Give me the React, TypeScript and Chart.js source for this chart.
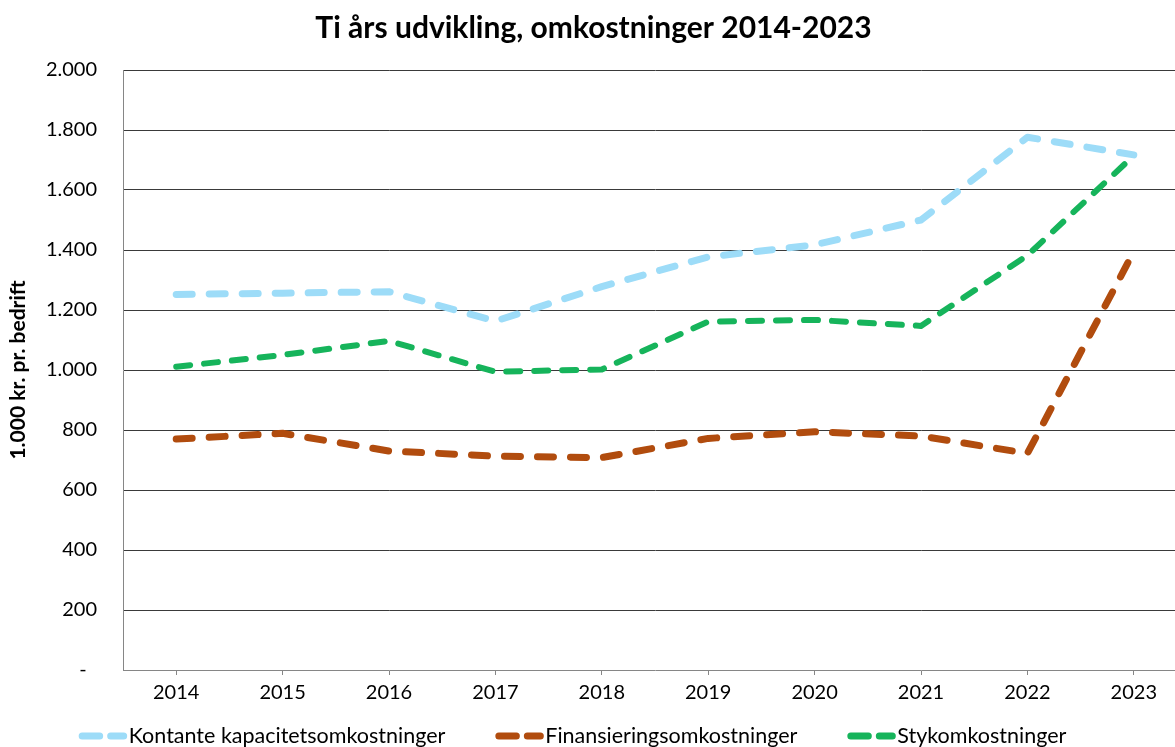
import React, { useEffect, useRef } from 'react';
import { Chart, registerables } from 'chart.js';

Chart.register(...registerables);

const years = ['2014', '2015', '2016', '2017', '2018', '2019', '2020', '2021', '2022', '2023'];
const kontante = [1252, 1256, 1261, 1163, 1278, 1377, 1417, 1500, 1776, 1717];
const finansiering = [770, 789, 730, 713, 708, 772, 794, 780, 722, 1395];
const styk = [1011, 1050, 1097, 994, 1002, 1161, 1167, 1147, 1382, 1715];

const seriesLabels = ['Kontante kapacitetsomkostninger', 'Finansieringsomkostninger', 'Stykomkostninger'];
const seriesColors = ['#9DDCF8', '#B14C0E', '#16B45B'];

const titleText = 'Ti års udvikling, omkostninger 2014-2023';
const yAxisTitle = '1.000 kr. pr. bedrift';

const FONT = 'Lato';

function formatTick(v: number): string {
  if (v === 0) return '-  ';
  if (v >= 1000) {
    const th = Math.floor(v / 1000);
    const rest = String(v % 1000).padStart(3, '0');
    return `${th}.${rest}`;
  }
  return String(v);
}

const customLegend = {
  id: 'customLegend',
  afterDraw(chart: any) {
    const ctx = chart.ctx as CanvasRenderingContext2D;
    const ds = chart.data.datasets;
    ctx.save();
    ctx.font = `21.5px ${FONT}`;
    const symW = 48;
    const symGap = 2;
    const itemGap = 50;
    const widths = ds.map((d: any) => ctx.measureText(d.label).width);
    const total = widths.reduce((a: number, w: number) => a + symW + symGap + w, 0) + itemGap * (ds.length - 1);
    let x = chart.width / 2 - 25 - total / 2;
    const y = chart.height - 11;
    ds.forEach((d: any, i: number) => {
      ctx.strokeStyle = d.borderColor;
      ctx.lineWidth = 7;
      ctx.lineCap = 'round';
      ctx.setLineDash([]);
      ctx.beginPath();
      ctx.moveTo(x + 3.5, y);
      ctx.lineTo(x + 21, y);
      ctx.moveTo(x + 32, y);
      ctx.lineTo(x + symW - 3, y);
      ctx.stroke();
      ctx.fillStyle = '#000';
      ctx.textBaseline = 'middle';
      ctx.textAlign = 'left';
      ctx.fillText(d.label, x + symW + symGap, y);
      x += symW + symGap + widths[i] + itemGap;
    });
    ctx.restore();
  },
};

export default function App() {
  const ref = useRef<HTMLCanvasElement>(null);

  useEffect(() => {
    if (!ref.current) return;
    const mk = (label: string, data: number[], color: string, width: number, dash: number[], order: number) => ({
      label,
      data,
      borderColor: color,
      backgroundColor: color,
      borderWidth: width,
      borderDash: dash,
      borderCapStyle: 'round' as const,
      borderJoinStyle: 'round' as const,
      pointRadius: 0,
      tension: 0,
      fill: false,
      order,
    });
    const chart = new Chart(ref.current, {
      type: 'line',
      data: {
        labels: years,
        datasets: [
          mk(seriesLabels[0], kontante, seriesColors[0], 7, [16, 17], 3),
          mk(seriesLabels[1], finansiering, seriesColors[1], 7, [16, 17], 2),
          mk(seriesLabels[2], styk, seriesColors[2], 6, [14, 14], 1),
        ],
      },
      plugins: [customLegend],
      options: {
        responsive: true,
        maintainAspectRatio: false,
        animation: false,
        layout: { padding: { left: 0, right: 8, top: 0, bottom: 30 } },
        plugins: {
          legend: { display: false },
          tooltip: { enabled: false },
          title: {
            display: true,
            text: titleText,
            color: '#000',
            font: { family: FONT, size: 30, weight: 'bold' },
            padding: { top: 10, bottom: 24 },
          },
        },
        scales: {
          x: {
            offset: true,
            grid: { offset: false, drawOnChartArea: false, drawTicks: true, tickLength: 5, color: '#868686' },
            border: { display: true, color: '#868686' },
            ticks: { font: { family: FONT, size: 20 }, color: '#000', padding: 6, maxRotation: 0, autoSkip: false },
            afterFit: (s: any) => { s.height = 47; },
          },
          y: {
            min: 0,
            max: 2000,
            ticks: {
              stepSize: 200,
              padding: 26,
              color: '#000',
              font: { family: FONT, size: 20 },
              callback: (v: any) => formatTick(Number(v)),
            },
            grid: {
              drawTicks: false,
              color: (c: any) => (c.tick && c.tick.value === 0 ? 'rgba(0,0,0,0)' : '#3a3a3a'),
              lineWidth: 1,
            },
            border: { display: true, color: '#868686' },
            title: {
              display: true,
              text: yAxisTitle,
              color: '#000',
              font: { family: FONT, size: 21, weight: 'bold' },
              padding: { top: 6, bottom: 0 },
            },
            afterFit: (s: any) => { s.width = 123; },
          },
        },
      },
    });
    return () => chart.destroy();
  }, []);

  return (
    <div style={{ position: 'absolute', left: 0, top: 0, width: 1175, height: 747, overflow: 'hidden', background: '#fff' }}>
      <div style={{ position: 'relative', width: 1195, height: 747 }}>
        <canvas ref={ref} />
      </div>
    </div>
  );
}
